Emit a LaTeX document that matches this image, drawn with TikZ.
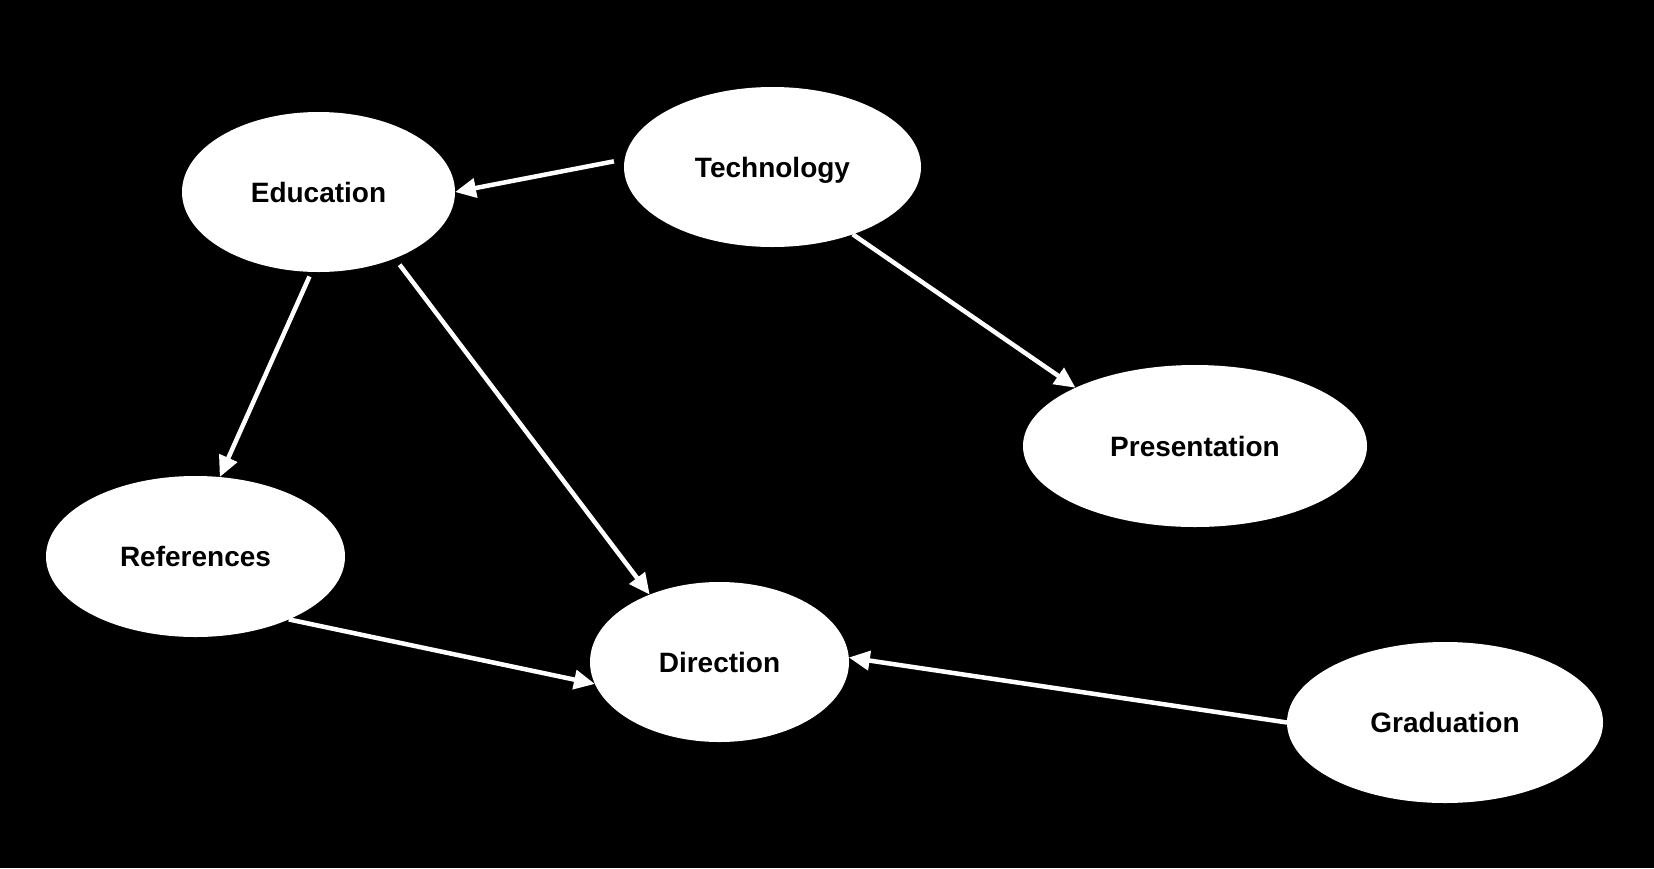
\documentclass[tikz,border=0pt]{standalone}
\usepackage{fontspec}
\setmainfont{Liberation Sans}
\usetikzlibrary{shapes.geometric,arrows.meta}
\tikzset{
  ell/.style={ellipse, fill=white, draw=none, inner sep=0pt, outer sep=0pt,
    text=black, font=\bfseries\fontsize{28}{28}\selectfont,
    text height=20pt, text depth=0pt},
  arr/.style={draw=white, line width=4.5pt, -{Triangle[length=21pt,width=19pt]}}
}
\begin{document}
\begin{tikzpicture}[x=1pt,y=-1pt]
\fill[black] (0,0) rectangle (1654,868);
\useasboundingbox (0,0) rectangle (1654,868);
\node[ell, minimum width=273pt, minimum height=160pt] (edu) at (318.5,192) {Education};
\node[ell, minimum width=297pt, minimum height=160pt] (tech) at (772.5,167) {Technology};
\node[ell, minimum width=344pt, minimum height=162pt] (pres) at (1195,446) {Presentation};
\node[ell, minimum width=299pt, minimum height=161pt] (ref) at (195.5,556.5) {References};
\node[ell, minimum width=259pt, minimum height=160pt] (dir) at (719.5,662) {Direction};
\node[ell, minimum width=316pt, minimum height=161pt] (grad) at (1445,722.5) {Graduation};
\draw[arr, shorten <=11pt] (tech.177.5) -- (edu.0.4);
\draw[arr] (tech.320) -- (pres.154.5);
\draw[arr, shorten <=5pt] (edu.265.6) -- (ref.73);
\draw[arr, shorten <=8pt] (edu.319) -- (dir.136);
\draw[arr] (ref.326.4) -- (dir.190.7);
\draw[arr] (grad.180) -- (dir.2.9);
\end{tikzpicture}
\end{document}
